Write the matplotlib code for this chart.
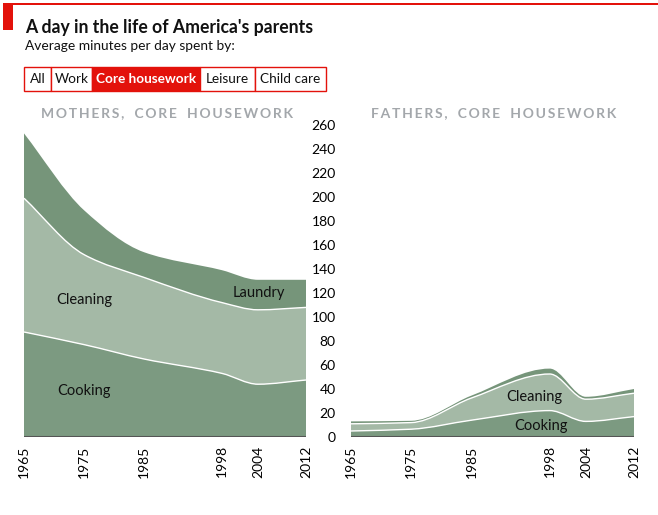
import numpy as np
import matplotlib
matplotlib.use("Agg")
import matplotlib.pyplot as plt
from matplotlib.path import Path
from matplotlib.patches import PathPatch, Rectangle

# Minuty denně
years = [1965, 1975, 1985, 1998, 2004, 2012]

mothers_cooking = [87.5, 77, 65, 53, 44, 47.5]
mothers_cleaning = [111.5, 75, 68, 59, 62, 60.5]
mothers_laundry = [54, 37, 21, 27, 25, 23]

fathers_cooking = [5, 6.5, 14, 22, 13, 17]
fathers_cleaning = [6, 5.5, 18.5, 30.5, 18.5, 19.5]
fathers_laundry = [2, 1.5, 2, 4.5, 2, 3.5]

y_ticks = list(range(0, 261, 20))
buttons = ["All", "Work", "Core housework", "Leisure", "Child care"]

FONT = "Lato"
W, H = 658, 515
c_cook = "#7c9a81"
c_clean = "#a4b9a6"
c_laundry = "#76957a"
red = "#e3120b"


def fx(x):
    return x / W


def fy(y):
    return 1 - y / H


# Monotónní kubické tečny (Fritsch-Carlson)
def tangents(x, y):
    x = np.asarray(x, float)
    y = np.asarray(y, float)
    h = np.diff(x)
    d = np.diff(y) / h
    m = np.zeros_like(y)
    m[0], m[-1] = d[0], d[-1]
    for i in range(1, len(y) - 1):
        if d[i - 1] * d[i] <= 0:
            m[i] = 0
        else:
            w1 = 2 * h[i] + h[i - 1]
            w2 = h[i] + 2 * h[i - 1]
            m[i] = (w1 + w2) / (w1 / d[i - 1] + w2 / d[i])
    return m


def bezier_verts(x, y, reverse=False):
    m = tangents(x, y)
    segs = []
    for i in range(len(x) - 1):
        h = x[i + 1] - x[i]
        segs.append([(x[i] + h / 3, y[i] + m[i] * h / 3),
                     (x[i + 1] - h / 3, y[i + 1] - m[i + 1] * h / 3),
                     (x[i + 1], y[i + 1])])
    if not reverse:
        out = [(x[0], y[0])]
        for seg in segs:
            out += seg
        return out
    # obrácený směr
    out = [(x[-1], y[-1])]
    for i in range(len(segs) - 1, -1, -1):
        seg = segs[i]
        out += [seg[1], seg[0], (x[i], y[i])]
    return out


def curve_path(x, y):
    v = bezier_verts(x, y)
    codes = [Path.MOVETO] + [Path.CURVE4] * (len(v) - 1)
    return Path(v, codes)


def band_path(x, lower, upper):
    up = bezier_verts(x, upper)
    if lower is None:
        down = [(x[-1], 0), (x[0], 0)]
        codes = [Path.MOVETO] + [Path.CURVE4] * (len(up) - 1) + [Path.LINETO, Path.LINETO, Path.CLOSEPOLY]
        return Path(up + down + [up[0]], codes)
    down = bezier_verts(x, lower, reverse=True)
    codes = ([Path.MOVETO] + [Path.CURVE4] * (len(up) - 1) + [Path.LINETO]
             + [Path.CURVE4] * (len(down) - 1) + [Path.CLOSEPOLY])
    return Path(up + down + [up[0]], codes)


def draw_panel(ax, cooking, cleaning, laundry):
    x = np.array(years, float)
    l1 = np.array(cooking, float)
    l2 = l1 + np.array(cleaning)
    l3 = l2 + np.array(laundry)
    ax.add_patch(PathPatch(band_path(x, None, l1), facecolor=c_cook, edgecolor="none"))
    ax.add_patch(PathPatch(band_path(x, l1, l2), facecolor=c_clean, edgecolor="none"))
    ax.add_patch(PathPatch(band_path(x, l2, l3), facecolor=c_laundry, edgecolor="none"))
    for top in (l1, l2):
        ax.add_patch(PathPatch(curve_path(x, top), facecolor="none", edgecolor="white", lw=1))
    ax.set_xlim(1965, 2012)
    ax.set_ylim(0, 260)
    ax.axhline(0, color="#555555", lw=1.5, zorder=5)
    for s in ax.spines.values():
        s.set_visible(False)
    ax.set_xticks(years)
    ax.set_xticklabels([str(y) for y in years], rotation=90, fontsize=10, family=FONT)
    ax.tick_params(axis="x", length=0, pad=6)


fig = plt.figure(figsize=(W / 100, H / 100), dpi=100)

ax1 = fig.add_axes([fx(24), fy(437), (306 - 24) / W, (437 - 125) / H])
ax2 = fig.add_axes([fx(351), fy(437), (634 - 351) / W, (437 - 125) / H])

draw_panel(ax1, mothers_cooking, mothers_cleaning, mothers_laundry)
draw_panel(ax2, fathers_cooking, fathers_cleaning, fathers_laundry)

ax1.set_yticks([])
ax2.set_yticks(y_ticks)
ax2.set_yticklabels([str(v) for v in y_ticks], fontsize=10, family=FONT)
ax2.tick_params(axis="y", length=0, pad=11)

# Popisky vrstev
lab = dict(fontsize=10.5, family=FONT, ha="center", va="center", color="#111111")
ax1.text(1975, 114, "Cleaning", **lab)
ax1.text(1975, 38, "Cooking", **lab)
ax1.text(2004.2, 120, "Laundry", **lab)
ax2.text(1995.5, 33.5, "Cleaning", **lab)
ax2.text(1996.5, 9.5, "Cooking", **lab)


# Nadpisy panelů (prostrkané písmo)
def spaced(s):
    return "\u2009".join(s).replace("\u2009 \u2009", "   ")


fig.text(fx(167), fy(113), spaced("MOTHERS, CORE HOUSEWORK"), fontsize=10, weight="bold",
         color="#a3a7ab", family=FONT, ha="center", va="center")
fig.text(fx(494), fy(113), spaced("FATHERS, CORE HOUSEWORK"), fontsize=10, weight="bold",
         color="#a3a7ab", family=FONT, ha="center", va="center")

# Záhlaví
fig.add_artist(Rectangle((fx(3), fy(30)), 10 / W, 27 / H, transform=fig.transFigure,
                         facecolor=red, edgecolor="none"))
fig.add_artist(Rectangle((fx(12), fy(5)), (W - 12) / W, 2 / H, transform=fig.transFigure,
                         facecolor=red, edgecolor="none"))
fig.text(fx(25), fy(28), "A day in the life of America's parents", fontsize=12.7, weight="bold",
         family=FONT, ha="left", va="center", color="#111111")
fig.text(fx(25), fy(46), "Average minutes per day spent by:", fontsize=9.9,
         family=FONT, ha="left", va="center", color="#111111")

# Tlačítka
edges = [24, 51, 92, 200, 255, 326]
for i, name in enumerate(buttons):
    x0, x1 = edges[i], edges[i + 1]
    active = name == "Core housework"
    fig.add_artist(Rectangle((fx(x0), fy(91)), (x1 - x0) / W, 24 / H, transform=fig.transFigure,
                             facecolor=red if active else "white", edgecolor=red, lw=1))
    fig.text(fx((x0 + x1) / 2), fy(79), name, fontsize=9.8, family=FONT,
             weight="bold" if active else "normal", color="white" if active else "#111111",
             ha="center", va="center")

fig.savefig("out.png", dpi=100)
